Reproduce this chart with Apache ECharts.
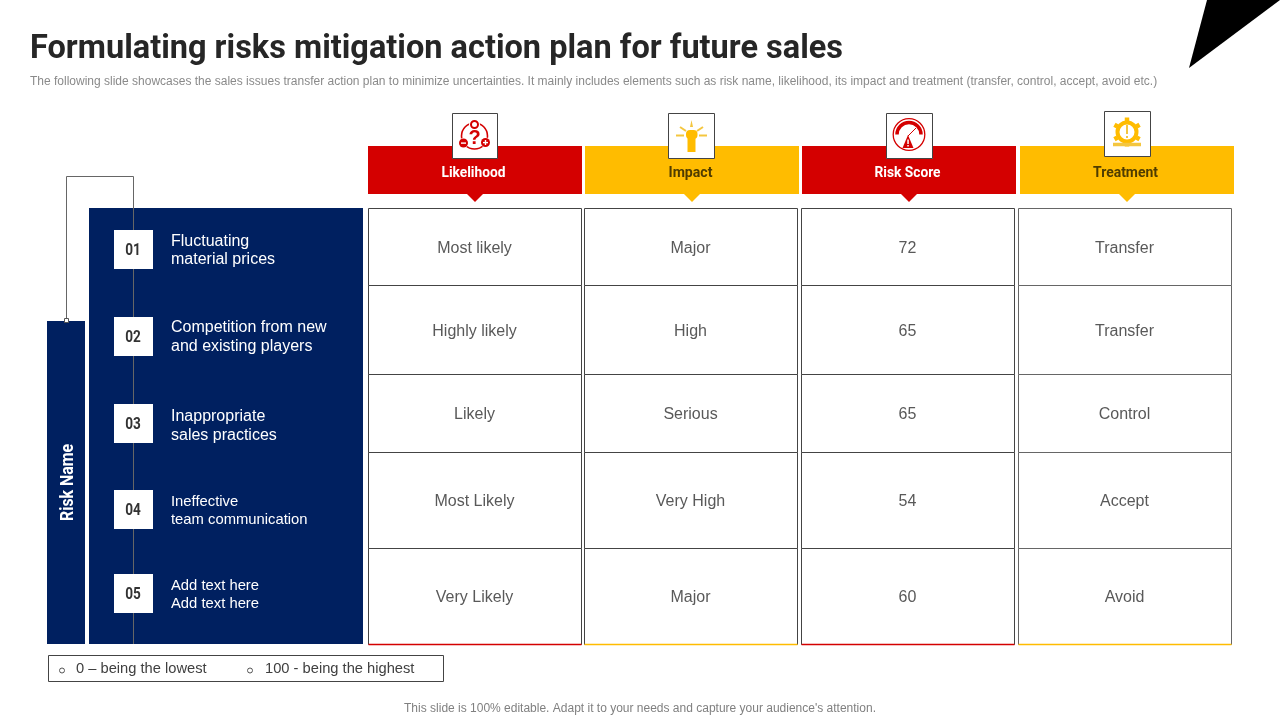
<!DOCTYPE html>
<html>
<head>
<meta charset="utf-8">
<style>html,body{margin:0;padding:0;background:#fff}#main{width:1280px;height:720px}</style>
<script src="https://cdn.jsdelivr.net/npm/echarts@6/dist/echarts.min.js"></script>
</head>
<body>
<div id="main"></div>
<script>
// table content
var columns = ['Likelihood', 'Impact', 'Risk Score', 'Treatment'];
var likelihood = ['Most likely', 'Highly likely', 'Likely', 'Most Likely', 'Very Likely'];
var impact = ['Major', 'High', 'Serious', 'Very High', 'Major'];
var riskScore = [72, 65, 65, 54, 60];
var treatment = ['Transfer', 'Transfer', 'Control', 'Accept', 'Avoid'];
var riskNumbers = ['01', '02', '03', '04', '05'];
var riskNames = [
	['Fluctuating', 'material prices'],
	['Competition from new', 'and existing players'],
	['Inappropriate', 'sales practices'],
	['Ineffective', 'team communication'],
	['Add text here', 'Add text here']
];
var legendNotes = ['0 – being the lowest', '100 - being the highest'];

// layout, kept apart from the data
var RED = '#d40000', YELLOW = '#ffbc00', NAVY = '#002060', LINE = '#444444';
var COND = 'Roboto,"DejaVu Sans Condensed",sans-serif';
var SANS = '"Liberation Sans",Arial,sans-serif';
var colColors = [RED, YELLOW, RED, YELLOW];
var rowEdges = [208, 285, 374, 452, 548, 644];
var boxTops = [230, 317, 404, 490, 574];
var nameTops = [[240, 258.5], [326.5, 345.5], [415, 434], [500.5, 518.5], [584.5, 602.5]];
var nameSizes = [16, 16, 16, 14.8, 14.8];
var headerWidths = [64, 44, 66, 65];

var measureCtx = document.createElement('canvas').getContext('2d');
// the original font is a narrow one, so squeeze text down to the width it has there
function squeeze(text, font, target) {
	measureCtx.font = font;
	return target / measureCtx.measureText(text).width;
}

var myChart = echarts.init(document.getElementById('main'));

var grids = [], xAxes = [], yAxes = [], series = [];
function addGrid(left, width, top, height) {
	var n = grids.length;
	grids.push({left: left, width: width, top: top, height: height});
	xAxes.push({type: 'category', gridIndex: n, data: columns, show: false});
	yAxes.push({type: 'category', gridIndex: n, data: ['row'], show: false});
	return n;
}

// header bars with the arrow under each one
var h = addGrid(366, 869.5, 146, 48);
series.push({
	type: 'custom', xAxisIndex: h, yAxisIndex: h, silent: true,
	data: columns.map(function(c, i) { return [i, 0]; }),
	renderItem: function(params, api) {
		var i = api.value(0);
		var p = api.coord([i, 0]);
		var w = api.size([1, 1]);
		var cx = Math.round(p[0]);
		var font = 'bold 15px ' + COND;
		return {type: 'group', children: [
			{type: 'rect', shape: {x: cx - 107, y: p[1] - w[1] / 2, width: 214, height: w[1]}, style: {fill: colColors[i]}},
			{type: 'polygon', shape: {points: [[cx - 8, p[1] + 24], [cx + 8, p[1] + 24], [cx, p[1] + 32]]}, style: {fill: colColors[i]}},
			{type: 'text', x: cx - 1.5, y: p[1] + 3, scaleX: squeeze(columns[i], font, headerWidths[i]), style: {text: columns[i], align: 'center', verticalAlign: 'middle', fill: i % 2 ? '#4f3c00' : '#ffffff', font: font}}
		]};
	}
});

// one grid per table row, because the rows are not the same height
for (var r = 0; r < 5; r++) {
	(function(r) {
		var g = addGrid(366, 867.5, rowEdges[r], rowEdges[r + 1] - rowEdges[r]);
		var cells = [likelihood[r], impact[r], riskScore[r], treatment[r]];
		series.push({
			type: 'custom', xAxisIndex: g, yAxisIndex: g, silent: true,
			data: cells.map(function(c, i) { return [i, 0]; }),
			renderItem: function(params, api) {
				var i = api.value(0);
				var p = api.coord([i, 0]);
				var w = api.size([1, 1]);
				var top = p[1] - w[1] / 2;
				var x0 = Math.round(p[0] - 106.9) + 0.5;
				var kids = [
					{type: 'rect', shape: {x: x0, y: top + 0.5, width: 213, height: w[1]}, style: {fill: '#fff', stroke: i == 3 ? '#666' : LINE, lineWidth: 1}},
					{type: 'text', style: {x: x0 + 106, y: p[1] + 2, text: String(cells[i]), align: 'center', verticalAlign: 'middle', fill: '#595959', font: '16px ' + SANS}}
				];
				if (r == 4) {
					kids.push({type: 'line', shape: {x1: x0, y1: top + w[1] + 0.5, x2: x0 + 213, y2: top + w[1] + 0.5}, style: {stroke: colColors[i], lineWidth: 1.5}});
				}
				return {type: 'group', children: kids};
			}
		});
	})(r);
}

function ring(x, y, rad, color, lw) {
	return {type: 'circle', shape: {cx: x, cy: y, r: rad}, style: {fill: 'none', stroke: color, lineWidth: lw}};
}
function dot(x, y, rad, color) {
	return {type: 'circle', shape: {cx: x, cy: y, r: rad}, style: {fill: color}};
}
// verticalAlign middle sits a little high for these fonts, hence the 1.5
function label(x, y, text, font, color, align, scale) {
	return {type: 'text', x: x, y: y + 1.5, scaleX: scale || 1, style: {text: text, font: font, fill: color, align: align || 'left', verticalAlign: 'middle'}};
}
function box(x, y, w, h, fill, stroke) {
	return {type: 'rect', shape: {x: x, y: y, width: w, height: h}, style: {fill: fill, stroke: stroke || 'none', lineWidth: 1}};
}
function seg(x1, y1, x2, y2, color, lw) {
	return {type: 'line', shape: {x1: x1, y1: y1, x2: x2, y2: y2}, style: {stroke: color, lineWidth: lw}};
}

var gfx = [];
// titles
var titleText = 'Formulating risks mitigation action plan for future sales';
var titleFont = 'bold 34px ' + COND;
gfx.push(label(30, 48, titleText, titleFont, '#262626', 'left', squeeze(titleText, titleFont, 813)));
gfx.push(label(30, 80, 'The following slide showcases the sales issues transfer action plan to minimize uncertainties. It mainly includes elements such as risk name, likelihood, its impact and treatment (transfer, control, accept, avoid etc.)', '12px ' + SANS, '#8a8a8a'));
gfx.push({type: 'polygon', shape: {points: [[1207, 0], [1280, 0], [1189, 68]]}, style: {fill: '#000'}});
gfx.push(label(640, 707, "This slide is 100% editable. Adapt it to your needs and capture your audience's attention.", '12px ' + SANS, '#808080', 'center'));

// left panels
gfx.push(box(89, 208, 274, 436, NAVY));
gfx.push(box(47, 321, 38, 323, NAVY));
gfx.push({type: 'polyline', shape: {points: [[66.5, 321], [66.5, 176.5], [133.5, 176.5], [133.5, 644]]}, style: {fill: 'none', stroke: '#666', lineWidth: 1}});
gfx.push(box(64.5, 318.5, 4, 4, '#fff', '#555'));
var sideFont = 'bold 18px ' + COND;
gfx.push({type: 'text', x: 68, y: 482.5, rotation: Math.PI / 2, scaleX: squeeze('Risk Name', sideFont, 77), style: {text: 'Risk Name', font: sideFont, fill: '#fff', align: 'center', verticalAlign: 'middle'}});

riskNumbers.forEach(function(num, i) {
	var numFont = 'bold 16px ' + COND;
	gfx.push(box(114, boxTops[i], 39, 39, '#fff'));
	gfx.push(label(133, boxTops[i] + 19, num, numFont, '#333', 'center', 0.85));
	gfx.push(label(171, nameTops[i][0], riskNames[i][0], nameSizes[i] + 'px ' + SANS, '#fff'));
	gfx.push(label(171, nameTops[i][1], riskNames[i][1], nameSizes[i] + 'px ' + SANS, '#fff'));
});

// legend box
gfx.push(box(48.5, 655.5, 395, 26, '#fff', LINE));
gfx.push(ring(62, 670.5, 2.5, '#555', 1));
gfx.push(label(76, 667, legendNotes[0], '14.7px ' + SANS, '#404040'));
gfx.push(ring(250, 670.5, 2.5, '#555', 1));
gfx.push(label(265, 667, legendNotes[1], '14.7px ' + SANS, '#404040'));

// icon boxes
gfx.push(box(452.5, 113.5, 45, 45, '#fff', LINE));
gfx.push(box(668.5, 113.5, 46, 45, '#fff', LINE));
gfx.push(box(886.5, 113.5, 46, 45, '#fff', LINE));
gfx.push(box(1104.5, 111.5, 46, 45, '#fff', LINE));

// likelihood icon
gfx.push(ring(474.5, 136, 13, RED, 1.6));
gfx.push(dot(474.5, 124.5, 5.5, '#fff'), ring(474.5, 124.5, 3.5, RED, 2));
gfx.push(dot(463.5, 143, 5, '#fff'), dot(463.5, 143, 4.5, RED), box(461, 142.4, 5, 1.4, '#fff'));
gfx.push(dot(485.5, 142.5, 5, '#fff'), dot(485.5, 142.5, 4.5, RED), box(483, 141.9, 5, 1.4, '#fff'), box(484.8, 140, 1.4, 5, '#fff'));
gfx.push(label(474.5, 137, '?', 'bold 20px ' + SANS, RED, 'center'));

// impact icon, a raised fist with rays
gfx.push({type: 'rect', shape: {x: 687.5, y: 133, width: 8, height: 19}, style: {fill: YELLOW}});
gfx.push({type: 'rect', shape: {x: 686, y: 130, width: 11.5, height: 9, r: 4}, style: {fill: YELLOW}});
gfx.push({type: 'polygon', shape: {points: [[691.5, 120], [693, 127], [690, 127]]}, style: {fill: '#f4c63f'}});
gfx.push(seg(680, 127, 686, 131, '#f4c63f', 2), seg(703, 127, 697, 131, '#f4c63f', 2));
gfx.push(seg(676, 135.5, 684, 135.5, '#f4c63f', 2), seg(699, 135.5, 707, 135.5, '#f4c63f', 2));

// risk score icon, a gauge
gfx.push(ring(909, 134.5, 15.8, RED, 1.3));
gfx.push({type: 'arc', shape: {cx: 909, cy: 134.5, r: 12, startAngle: Math.PI, endAngle: 0, clockwise: true}, style: {fill: 'none', stroke: RED, lineWidth: 3.5}});
gfx.push(seg(908, 136, 916, 128, RED, 1));
gfx.push({type: 'polygon', shape: {points: [[908, 135], [902.5, 148], [913.5, 148]]}, style: {fill: RED}});
gfx.push(box(907.3, 139.5, 1.5, 4.5, '#fff'), box(907.3, 145, 1.5, 1.5, '#fff'));

// treatment icon, a gear with a wrench base
gfx.push(ring(1127, 132, 9.5, YELLOW, 4));
[0, 1, 2, 3, 4, 5].forEach(function(k) {
	var a = k * Math.PI / 3 + Math.PI / 2 * 3;
	gfx.push(seg(1127 + 11 * Math.cos(a), 132 + 11 * Math.sin(a), 1127 + 14.5 * Math.cos(a), 132 + 14.5 * Math.sin(a), YELLOW, 4.5));
});
gfx.push(seg(1113, 144.5, 1141, 144.5, '#f4c63f', 3.5));
gfx.push(box(1126, 125, 2, 9, '#f4c63f'), box(1126, 136, 2, 2, '#f4c63f'));

// everything above sits on top of the series
gfx.forEach(function(el) { el.z = 10; });

var option = {
	animation: false,
	grid: grids,
	xAxis: xAxes,
	yAxis: yAxes,
	series: series,
	graphic: {elements: gfx}
};
myChart.setOption(option);
</script>
</body>
</html>
